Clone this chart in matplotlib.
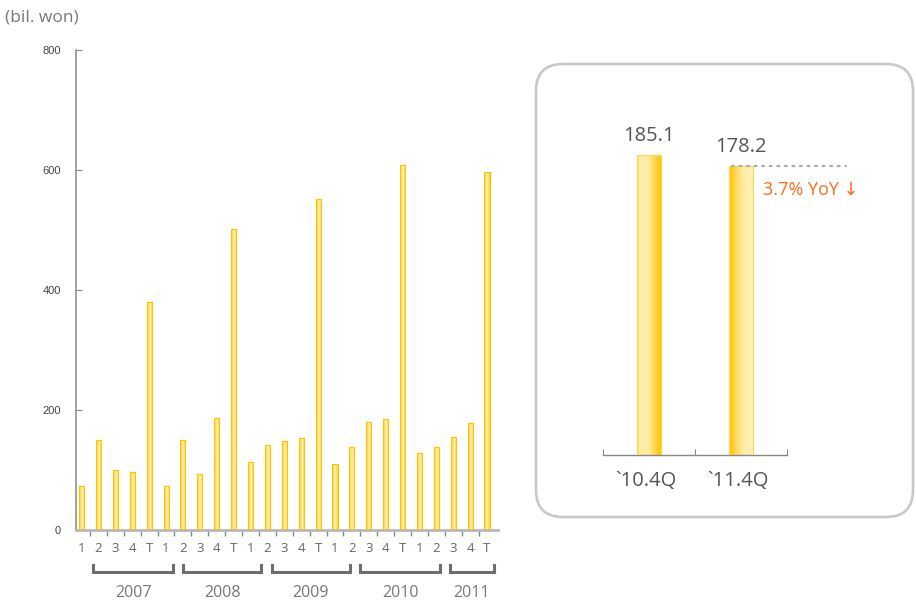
import numpy as np
import matplotlib
matplotlib.use("Agg")
import matplotlib.pyplot as plt
import matplotlib.transforms as mtransforms
from matplotlib.colors import LinearSegmentedColormap
from matplotlib.patches import FancyBboxPatch

plt.rcParams['font.family'] = ['Open Sans', 'DejaVu Sans']

# quarterly sales, bil. won (T = full year total)
quarters = ['1', '2', '3', '4', 'T'] * 5
years = ['2007', '2008', '2009', '2010', '2011']
sales = [73, 150, 100, 97, 380,
         73, 150, 93, 187, 502,
         113, 142, 148, 153, 552,
         110, 138, 180, 185.1, 608,
         128, 138, 155, 178.2, 597]

# Q4 year-on-year comparison
cmp_labels = ['`10.4Q', '`11.4Q']
cmp_values = [185.1, 178.2]

# year brackets under the quarter labels (x in bar units)
year_spans = [(0.7, 5.4), (6.0, 10.65), (11.25, 15.9), (16.5, 21.2), (21.8, 24.4)]

gold = '#FFC300'
cm_thin = LinearSegmentedColormap.from_list(
    'thin', [(0, '#FFC400'), (0.3, '#FFE27A'), (0.55, '#FFF2BE'), (0.85, '#FFDD66'), (1, '#FFC400')])
cm_a = LinearSegmentedColormap.from_list(
    'a', [(0, '#FFC800'), (0.08, '#FFEFA8'), (0.45, '#FFEDA5'), (1, '#FFC400')])
cm_b = LinearSegmentedColormap.from_list(
    'b', [(0, '#FFC400'), (0.55, '#FFEAA0'), (1, '#FFF1BC')])


def fill_gradient(ax, bars, cmap):
    grad = np.linspace(0, 1, 128).reshape(1, -1)
    for b in bars:
        x0, y0 = b.get_x(), b.get_y()
        im = ax.imshow(grad, cmap=cmap, aspect='auto', interpolation='bicubic',
                       extent=(x0, x0 + b.get_width(), y0, y0 + b.get_height()), zorder=2)
        im.set_clip_path(b)


fig = plt.figure(figsize=(9.16, 6.04), dpi=100)

# rounded panel behind the Q4 comparison
panel = FancyBboxPatch((5.36, 0.87), 3.77, 4.53, boxstyle='round,pad=0,rounding_size=0.27',
                       transform=fig.dpi_scale_trans, facecolor='none', edgecolor='#c8c8c8',
                       lw=1.9, zorder=-1)
fig.patches.append(panel)

# ---- left: quarterly bars
ax = fig.add_axes([76 / 916, 74 / 604, 422 / 916, 480 / 604])
x = np.arange(len(sales))
bars = ax.bar(x, sales, width=0.3, facecolor='none', edgecolor=gold, lw=0.8, zorder=3)
fill_gradient(ax, bars, cm_thin)
ax.set_xlim(-0.33, 24.65)
ax.set_ylim(0, 800)

for s in ['top', 'right']:
    ax.spines[s].set_visible(False)
ax.spines['left'].set_color('#888888')
ax.spines['left'].set_linewidth(1.1)
ax.spines['bottom'].set_color('#b8b8b8')
ax.spines['bottom'].set_linewidth(2)

ax.set_yticks([0, 200, 400, 600, 800])
ax.tick_params(axis='y', direction='in', length=4, color='#888888', pad=11,
               labelsize=8, labelcolor='#444444')
for t in ax.get_yticklabels():
    t.set_fontfamily('Liberation Sans')

ax.set_xticks(x)
ax.set_xticklabels(quarters)
ax.tick_params(axis='x', length=0, pad=9, labelsize=9.5, labelcolor='#666666')
ax.set_xticks(np.arange(len(sales) - 1) + 0.5, minor=True)
ax.tick_params(axis='x', which='minor', direction='out', length=4, width=1, color='#888888')

trans = mtransforms.blended_transform_factory(ax.transData, ax.transAxes)
for (a, b), yr in zip(year_spans, years):
    ax.plot([a, a, b, b], [-0.073, -0.0875, -0.0875, -0.073], color='#6e6e6e', lw=2.2,
            transform=trans, clip_on=False, solid_joinstyle='miter')
    ax.text((a + b) / 2, -0.131, yr, transform=trans, ha='center', va='center',
            fontsize=11.5, color='#777777')

fig.text(5 / 916, 1 - 17 / 604, '(bil. won)', ha='left', va='center', fontsize=12.5, color='#777777')

# ---- right: Q4 comparison
ax2 = fig.add_axes([603 / 916, 149 / 604, 184 / 916, 324 / 604])
ax2.patch.set_alpha(0)
b1 = ax2.bar([0], cmp_values[:1], width=0.26, facecolor='none', edgecolor='#FFD84A', lw=0.8, zorder=3)
b2 = ax2.bar([1], cmp_values[1:], width=0.26, facecolor='none', edgecolor='#FFD84A', lw=0.8, zorder=3)
fill_gradient(ax2, b1, cm_a)
fill_gradient(ax2, b2, cm_b)
ax2.set_xlim(-0.5, 1.5)
ax2.set_ylim(0, 200)
for s in ['top', 'right', 'left']:
    ax2.spines[s].set_visible(False)
ax2.spines['bottom'].set_color('#888888')
ax2.spines['bottom'].set_linewidth(1)
ax2.set_yticks([])
ax2.set_xticks([-0.5, 0.5, 1.5])
ax2.set_xticklabels([])
ax2.tick_params(axis='x', direction='in', length=4, color='#888888')

for i, (lab, v) in enumerate(zip(cmp_labels, cmp_values)):
    ax2.annotate(f'{v:.1f}', (i, v), xytext=(0, 10.5), textcoords='offset points',
                 ha='center', va='baseline', fontsize=14.5, color='#555555')
    ax2.annotate(lab, (i, 0), xytext=(-2, -22.5), textcoords='offset points',
                 ha='center', va='baseline', fontsize=14.5, color='#555555')

v_new = cmp_values[1]
yoy = (cmp_values[0] - cmp_values[1]) / cmp_values[0] * 100
ax2.plot([0.9, 2.14], [v_new, v_new], color='#aaaaaa', lw=1.6, ls=(0, (0.8, 2.6)),
         dash_capstyle='round', clip_on=False, zorder=4)
ax2.annotate(f'{yoy:.1f}% YoY ↓', (1.24, v_new), xytext=(0, -17), textcoords='offset points',
             ha='left', va='center', fontsize=13, color='#FF6B1F')

fig.savefig('out.png', dpi=100)
